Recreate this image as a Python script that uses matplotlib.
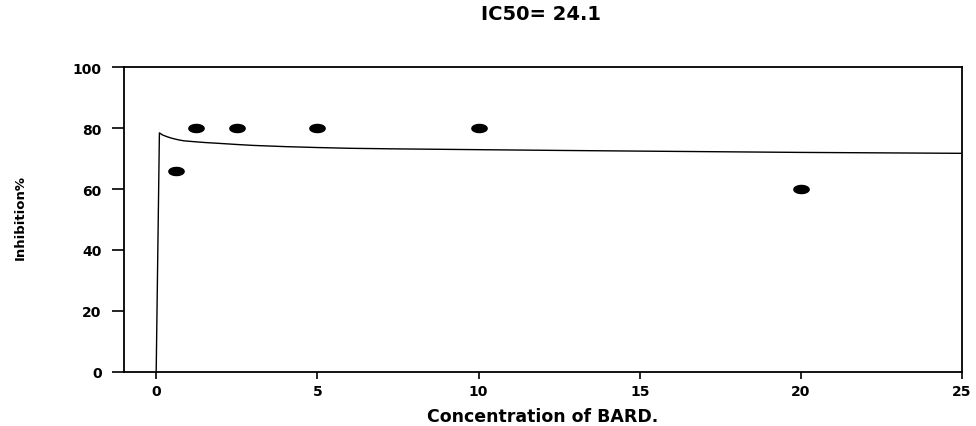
#!/usr/bin/env python3
"""IC50 plot: inhibition % vs concentration of BARD with fitted curve."""
import numpy as np
import matplotlib.pyplot as plt
from matplotlib.path import Path

plt.rcParams.update({"font.family": "DejaVu Sans", "font.weight": "bold"})

# measured points
conc = [0.625, 1.25, 2.5, 5, 10, 20]
inhibition = [66, 80, 80, 80, 80, 60]

# fitted curve
fit_x = [0, 0.1, 0.2, 0.35, 0.5, 0.7, 0.86, 1.2, 1.5, 1.9, 2.5, 3.0, 4.0,
         5.0, 6.0, 7.5, 10, 12.5, 15.3, 20, 25]
fit_y = [0, 78.4, 77.7, 77.1, 76.6, 76.1, 75.8, 75.5, 75.25, 75.0, 74.6,
         74.3, 73.9, 73.6, 73.35, 73.15, 72.9, 72.65, 72.4, 72.0, 71.7]

title = "IC50= 24.1"
xlabel = "Concentration of BARD."
ylabel = "Inhibition%"
xticks = [0, 5, 10, 15, 20, 25]
yticks = [0, 20, 40, 60, 80, 100]

# flattened ellipse marker
t = np.linspace(0, 2 * np.pi, 40)
ellipse = Path(np.column_stack([np.cos(t), 0.53 * np.sin(t)]), closed=True)

fig = plt.figure(figsize=(9.76, 4.27), dpi=100)
ax = fig.add_axes([0.127, 0.1265, 0.8587, 0.7142])

ax.plot(fit_x, fit_y, color="black", lw=1.0)
ax.plot(conc, inhibition, linestyle="none", marker=ellipse, markersize=11,
        color="black")

ax.set_xlim(-1, 25)
ax.set_ylim(0, 100)
ax.set_xticks(xticks)
ax.set_yticks(yticks)
ax.tick_params(axis="x", direction="out", length=5, width=1.2, pad=4,
               labelsize=10)
ax.tick_params(axis="y", direction="out", length=9, width=1.2, pad=7,
               labelsize=10)
for sp in ax.spines.values():
    sp.set_linewidth(1.3)

ax.set_xlabel(xlabel, fontsize=12.5, fontweight="bold", labelpad=6)
fig.text(0.021, 0.49, ylabel, rotation=90, fontsize=9.5, fontweight="bold",
         ha="center", va="center")
fig.text(0.554, 0.965, title, fontsize=14, fontweight="bold",
         ha="center", va="center")

fig.savefig("out.png", dpi=100)
